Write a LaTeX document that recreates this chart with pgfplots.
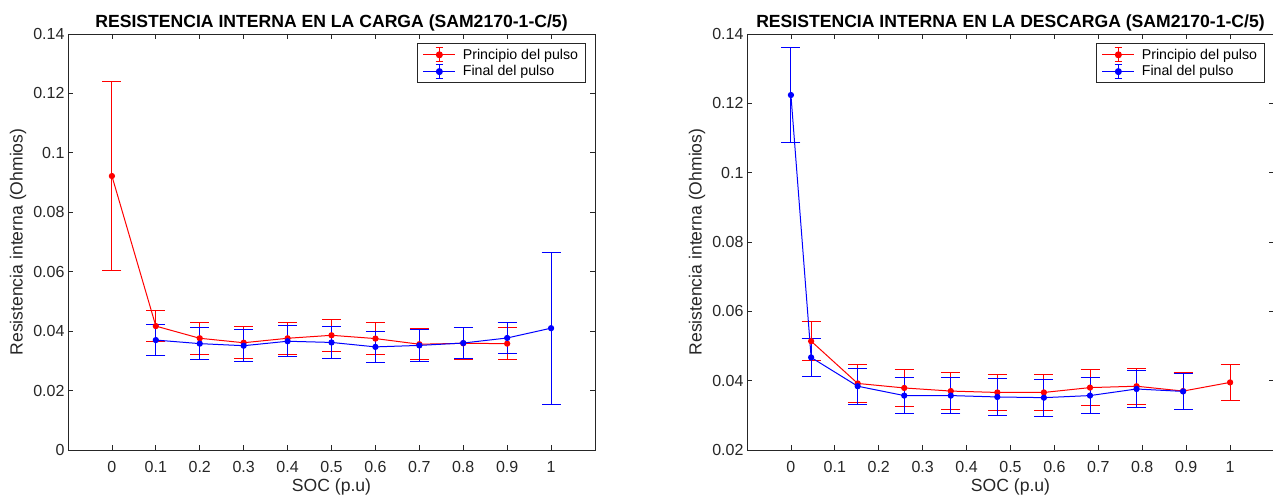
\documentclass[border=0pt]{standalone}
\usepackage{fontspec}
\setmainfont{Liberation Sans}
\usepackage{pgfplots}
\usepackage{pgfplotstable}
\pgfplotsset{compat=1.18}
\definecolor{axgray}{gray}{0.15}

\pgfplotstableread{
x y e
0   0.0922 0.0318
0.1 0.0417 0.0053
0.2 0.0376 0.0053
0.3 0.0361 0.0053
0.4 0.0376 0.0053
0.5 0.0386 0.0053
0.6 0.0375 0.0053
0.7 0.0356 0.0053
0.8 0.0359 0.0053
0.9 0.0358 0.0053
}\cargaprin
\pgfplotstableread{
x y e
0.1 0.0370 0.0053
0.2 0.0358 0.0053
0.3 0.0351 0.0053
0.4 0.0366 0.0053
0.5 0.0362 0.0053
0.6 0.0347 0.0053
0.7 0.0352 0.0053
0.8 0.0360 0.0053
0.9 0.0377 0.0053
1.0 0.0410 0.0256
}\cargafin
\pgfplotstableread{
x y e
0.046 0.0514 0.0057
0.152 0.0392 0.0055
0.258 0.0379 0.0053
0.364 0.0370 0.0053
0.470 0.0366 0.0052
0.576 0.0366 0.0052
0.681 0.0380 0.0053
0.787 0.0384 0.0052
0.893 0.0370 0.0053
1.0   0.0395 0.0053
}\descprin
\pgfplotstableread{
x y e
0     0.1224 0.0138
0.046 0.0467 0.0056
0.152 0.0384 0.0052
0.258 0.0357 0.0053
0.364 0.0357 0.0053
0.470 0.0353 0.0053
0.576 0.0351 0.0053
0.681 0.0357 0.0053
0.787 0.0376 0.0053
0.893 0.0369 0.0053
}\descfin

\pgfplotsset{
  mystyle/.style={
    scale only axis, width=527pt, height=416pt,
    xmin=-0.1, xmax=1.1,
    xtick={0,0.1,...,1.0},
    xticklabels={0,0.1,0.2,0.3,0.4,0.5,0.6,0.7,0.8,0.9,1},
    tick pos=both, tick align=inside, major tick length=5pt,
    axis line style={axgray, line width=0.8pt},
    every tick/.style={axgray, line width=0.8pt},
    tick label style={font=\fontsize{16}{19}\selectfont, text=axgray},
    xticklabel style={yshift=-8pt},
    label style={font=\fontsize{17.6}{21}\selectfont, text=axgray},
    xlabel={SOC (p.u)},
    ylabel={Resistencia interna (Ohmios)},
    xlabel style={at={(axis description cs:0.5,-0.089)}, anchor=center},
    ylabel style={at={(axis description cs:-0.0949,0.5)}, anchor=center},
    title style={font=\bfseries\fontsize{17.6}{21}\selectfont, text=black,
      at={(axis description cs:0.5,1.013)}, anchor=center, yshift=0pt},
    legend style={at={(axis description cs:1,1)}, anchor=north east,
      xshift=-9pt, yshift=-9.5pt, draw=axgray, line width=0.8pt,
      font=\fontsize{14.2}{17}\selectfont, inner xsep=5.5pt, inner ysep=3pt,
      row sep=1pt, cells={anchor=west}},
    legend cell align=left,
  },
  eb/.style={
    draw=#1, color=#1, line width=1pt, mark=*, mark size=2.6pt,
    mark options={solid, fill=#1, draw=#1},
    legend image code/.code={
      \draw[draw=#1, line width=1pt] (0pt,0pt) -- (32pt,0pt);
      \draw[draw=#1, line width=1pt] (16pt,-7pt) -- (16pt,7pt);
      \draw[draw=#1, line width=1pt] (12.3pt,-7pt) -- (19.7pt,-7pt);
      \draw[draw=#1, line width=1pt] (12.3pt,7pt) -- (19.7pt,7pt);
      \fill[fill=#1] (16pt,0pt) circle (3pt);
      \path (37pt,0pt);
    },
    error bars/.cd, y dir=both, y explicit,
    error bar style={draw=#1, line width=1pt},
    error mark options={rotate=90, draw=#1, line width=1pt, mark size=9.5pt},
  },
}

\begin{document}
\begin{tikzpicture}
\path[use as bounding box] (0,0) rectangle (1273pt,496pt);

\begin{axis}[mystyle, at={(68pt,46pt)}, anchor=south west,
  ymin=0, ymax=0.14,
  ytick={0,0.02,0.04,0.06,0.08,0.1,0.12,0.14},
  yticklabels={0,0.02,0.04,0.06,0.08,0.1,0.12,0.14},
  title={RESISTENCIA INTERNA EN LA CARGA (SAM2170-1-C/5)}]
\addplot[eb=red] table[x=x, y=y, y error=e] {\cargaprin};
\addlegendentry{Principio del pulso}
\addplot[eb=blue] table[x=x, y=y, y error=e] {\cargafin};
\addlegendentry{Final del pulso}
\end{axis}

\begin{axis}[mystyle, at={(747pt,46pt)}, anchor=south west,
  ymin=0.02, ymax=0.14,
  ytick={0.02,0.04,0.06,0.08,0.1,0.12,0.14},
  yticklabels={0.02,0.04,0.06,0.08,0.1,0.12,0.14},
  title={RESISTENCIA INTERNA EN LA DESCARGA (SAM2170-1-C/5)}]
\addplot[eb=red] table[x=x, y=y, y error=e] {\descprin};
\addlegendentry{Principio del pulso}
\addplot[eb=blue] table[x=x, y=y, y error=e] {\descfin};
\addlegendentry{Final del pulso}
\end{axis}
\end{tikzpicture}
\end{document}
